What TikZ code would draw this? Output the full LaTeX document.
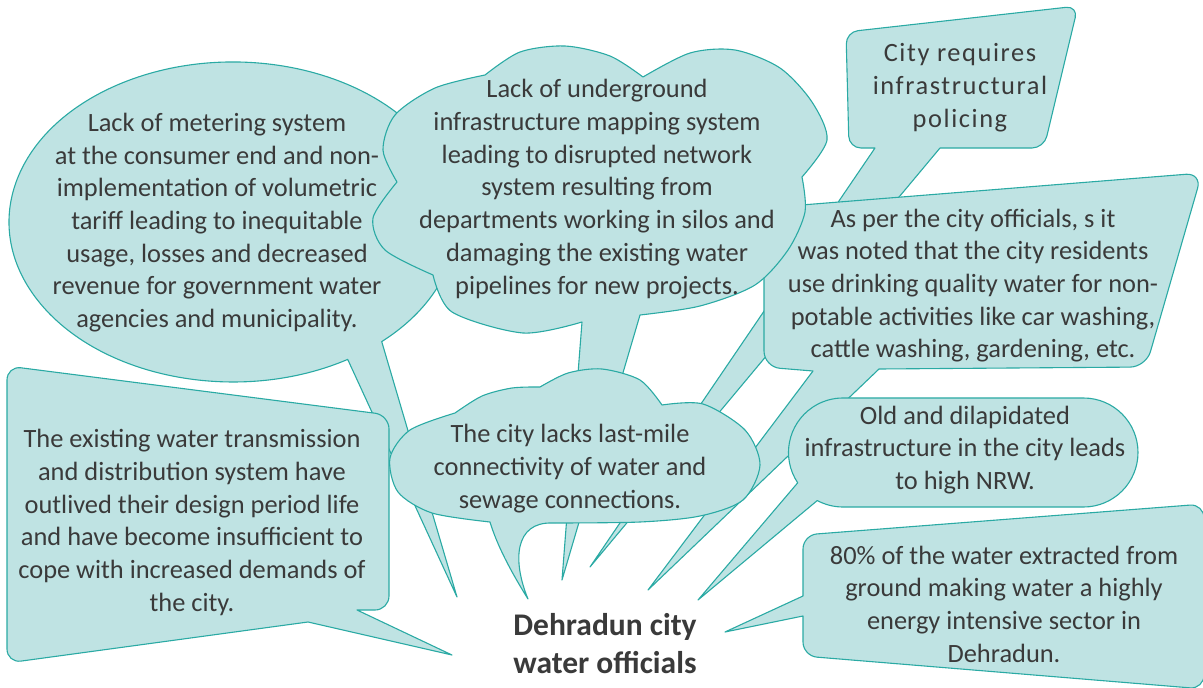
\documentclass[tikz,border=0pt]{standalone}
\usepackage{fontspec}
\setmainfont{Carlito}
\newfontfamily\spacedfont[LetterSpace=6]{Carlito}
\definecolor{bfill}{RGB}{191,227,227}
\definecolor{bline}{RGB}{42,170,164}
\definecolor{txt}{RGB}{58,58,58}
\tikzset{
  bub/.style={fill=bfill, draw=bline, line width=1.1pt, line join=round},
  lbl/.style={text=txt, align=center, inner sep=0pt, font=\fontsize{26.4}{32.7}\selectfont}
}
\begin{document}
\begin{tikzpicture}[x=1pt,y=1pt,yscale=-1]
\useasboundingbox (0,0) rectangle (1203,688);
% tip coordinates
\coordinate (tipMeter) at (457,597);
\coordinate (tipExist) at (452,655);
\coordinate (tipCity) at (590,567);
\coordinate (tipAsper) at (648,590);
\coordinate (tipUnder) at (562,580);
\coordinate (tipOld) at (698,600);
\coordinate (tip80) at (725,632);
\coordinate (tipLacks) at (528,599);

% metering ellipse
\draw[bub] (tipMeter) -- (347.7,359.4) arc[start angle=59.2, end angle=408.4, x radius=224, y radius=160] -- cycle;
% existing box
\draw[bub] (tipExist) -- (308,622) [rounded corners=14] -- (7,663) -- (7,366) -- (389,415) -- (389,610) [sharp corners] -- (357,610) -- cycle;
% city requires box
\draw[bub] (tipCity) -- (875,148) [rounded corners=12] -- (849,148) -- (846,32) -- (1078,6) -- (1044,148) [sharp corners] -- (940,148) -- cycle;
% as per box
\draw[bub] (tipAsper) -- (813,371) [rounded corners=16] -- (764,367) -- (764,208) -- (1202,173) -- (1146,367) [sharp corners] -- (879,369) -- cycle;
% underground cloud
\draw[bub] (tipUnder) -- (582,322)
 -- plot[smooth] coordinates {(582,322) (523,333) (452,312) (433,275)}
 -- plot[smooth] coordinates {(433,275) (385,250) (373,218) (397,182)}
 -- plot[smooth] coordinates {(397,182) (383,150) (395,115) (435,88) (485,75)}
 -- plot[smooth] coordinates {(485,75) (520,52) (565,46) (610,56) (643,77)}
 -- plot[smooth] coordinates {(643,77) (690,53) (735,50) (780,68) (812,102) (827,140) (802,177)}
 -- plot[smooth] coordinates {(802,177) (805,212) (788,250) (755,285) (700,306) (640,315)}
 -- cycle;
% old stadium
\draw[bub] (817.3,500.5) -- (tipOld) -- (797.7,482.8) arc[start angle=146.2,end angle=270,radius=54.5] -- (1083.5,398) arc[start angle=-90,end angle=90,radius=54.5] -- (843,507) arc[start angle=90,end angle=118.2,radius=54.5] -- cycle;
% 80% box
\draw[bub] (tip80) -- (803,616) [rounded corners=14] -- (803,656) -- (1204,689) -- (1204,504) -- (803,535) [sharp corners] -- (803,596) -- cycle;
% city lacks cloud
\draw[bub] (tipLacks) .. controls (510,570) and (497,545) .. (490,522)
 -- plot[smooth] coordinates {(490,522) (432,513) (398,492) (390,458) (410,430) (455,413)}
 -- plot[smooth] coordinates {(455,413) (482,396) (512,388) (540,387)}
 -- plot[smooth] coordinates {(540,387) (568,373) (602,369) (640,380) (662,405)}
 -- plot[smooth] coordinates {(662,405) (703,404) (745,430) (760,465) (743,500) (700,516) (640,522) (552,523)}
 .. controls (515,522) and (512,560) .. (tipLacks) -- cycle;

% texts
\node[lbl] (tMeter) at (217,222.5) {Lack of metering system\\at the consumer end and non-\\implementation of volumetric\\tariff leading to inequitable\\usage, losses and decreased\\revenue for government water\\agencies and municipality.};
\node[lbl] (tUnder) at (597,189) {Lack of underground\\infrastructure mapping system\\leading to disrupted network\\system resulting from\\departments working in silos and\\damaging the existing water\\pipelines for new projects.};
\node[lbl, font=\spacedfont\fontsize{26.4}{32.7}\selectfont] (tCity) at (960,87.5) {City requires\\infrastructural\\policing};
\node[lbl] (tAsper) at (973,285.5) {As per the city officials, s it\\was noted that the city residents\\use drinking quality water for non-\\potable activities like car washing,\\cattle washing, gardening, etc.};
\node[lbl] (tExist) at (192,522.5) {The existing water transmission\\and distribution system have\\outlived their design period life\\and have become insufficient to\\cope with increased demands of\\the city.};
\node[lbl] (tLacks) at (570,468.5) {The city lacks last-mile\\connectivity of water and\\sewage connections.};
\node[lbl] (tOld) at (965,450) {Old and dilapidated\\infrastructure in the city leads\\to high NRW.};
\node[lbl] (t80) at (1004,604) {80\% of the water extracted from\\ground making water a highly\\energy intensive sector in\\Dehradun.};
\node[lbl, font=\bfseries\fontsize{31.5}{38}\selectfont] (tDeh) at (605,644) {Dehradun city\\water officials};
\end{tikzpicture}
\end{document}
